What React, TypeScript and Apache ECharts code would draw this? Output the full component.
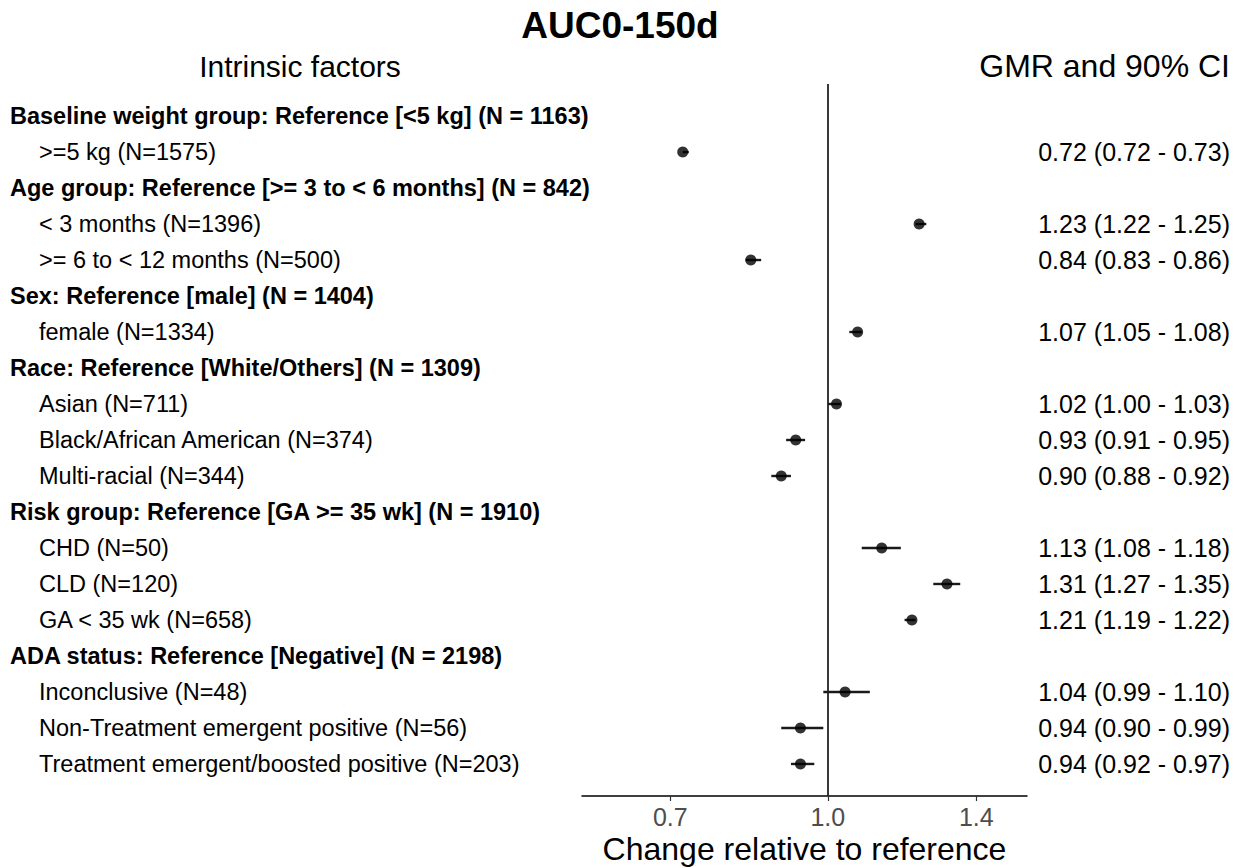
import { useEffect, useRef } from "react";
import * as echarts from "echarts";

const FONT = "'Liberation Sans', Arial, Helvetica, sans-serif";

const rowLabels = [
  "Baseline weight group: Reference [<5 kg] (N = 1163)",
  ">=5 kg (N=1575)",
  "Age group: Reference [>= 3 to < 6 months] (N = 842)",
  "< 3 months (N=1396)",
  ">= 6 to < 12 months (N=500)",
  "Sex: Reference [male] (N = 1404)",
  "female (N=1334)",
  "Race: Reference [White/Others] (N = 1309)",
  "Asian (N=711)",
  "Black/African American (N=374)",
  "Multi-racial (N=344)",
  "Risk group: Reference [GA >= 35 wk] (N = 1910)",
  "CHD (N=50)",
  "CLD (N=120)",
  "GA < 35 wk (N=658)",
  "ADA status: Reference [Negative] (N = 2198)",
  "Inconclusive (N=48)",
  "Non-Treatment emergent positive (N=56)",
  "Treatment emergent/boosted positive (N=203)",
];

const rowIsHeader = [
  true, false, true, false, false, true, false, true, false, false, false,
  true, false, false, false, true, false, false, false,
];

const gmrValues = [
  null, 0.72, null, 1.23, 0.84, null, 1.07, null, 1.02, 0.93, 0.9,
  null, 1.13, 1.31, 1.21, null, 1.04, 0.94, 0.94,
];
const ciLower = [
  null, 0.72, null, 1.22, 0.83, null, 1.05, null, 1.0, 0.91, 0.88,
  null, 1.08, 1.27, 1.19, null, 0.99, 0.9, 0.92,
];
const ciUpper = [
  null, 0.73, null, 1.25, 0.86, null, 1.08, null, 1.03, 0.95, 0.92,
  null, 1.18, 1.35, 1.22, null, 1.1, 0.99, 0.97,
];

const xTicks = [0.7, 1.0, 1.4];
const xLimits = [0.6, 1.5];
const referenceValue = 1.0;

export default function App() {
  const ref = useRef<HTMLDivElement>(null);

  useEffect(() => {
    document.body.style.margin = "0";
    const chart = echarts.init(ref.current!, null, { renderer: "svg" });
    const ln = Math.log;
    const span = ln(xLimits[1]) - ln(xLimits[0]);
    const lnMin = ln(xLimits[0]) - 0.05 * span;
    const lnMax = ln(xLimits[1]) + 0.05 * span;
    const idx = rowLabels.map((_, i) => i);
    const dataRows = idx.filter((i) => gmrValues[i] != null);
    const yPad = 0.89;
    const nRows = rowLabels.length;

    const ciText = (i: number) =>
      `${(gmrValues[i] as number).toFixed(2)} (${(ciLower[i] as number).toFixed(2)} - ${(ciUpper[i] as number).toFixed(2)})`;

    const headText = (text: string, x: number, y: number, size: number, align: string, bold = false) => ({
      type: "text",
      x,
      y,
      style: {
        text,
        font: `${bold ? "bold " : ""}${size}px ${FONT}`,
        fill: "#000",
        align,
        verticalAlign: "middle",
        textAlign: align,
        textVerticalAlign: "middle",
      },
    });

    chart.setOption({
      animation: false,
      textStyle: { fontFamily: FONT },
      grid: {
        left: 582,
        right: 213,
        top: 84,
        bottom: 72,
        containLabel: false,
        outerBoundsMode: "none",
      },
      graphic: [
        headText("AUC0-150d", 620, 25, 37, "center", true),
        headText("Intrinsic factors", 300, 66, 30, "center"),
        headText("GMR and 90% CI", 1230, 66, 32, "right"),
      ],
      xAxis: {
        type: "value",
        min: lnMin,
        max: lnMax,
        axisLine: { show: true, onZero: false, lineStyle: { color: "#000", width: 1.5 } },
        axisTick: {
          show: true,
          customValues: xTicks.map((v) => ln(v)),
          length: 5,
          lineStyle: { color: "#333", width: 1.2 },
        },
        axisLabel: {
          customValues: xTicks.map((v) => ln(v)),
          formatter: (v: number) => Math.exp(v).toFixed(1),
          color: "#4d4d4d",
          fontSize: 25,
          margin: 8,
          fontFamily: FONT,
        },
        splitLine: { show: false },
        name: "Change relative to reference",
        nameLocation: "middle",
        nameGap: 53,
        nameMoveOverlap: false,
        nameTextStyle: { fontSize: 32, color: "#000", fontFamily: FONT, verticalAlign: "middle" },
      },
      yAxis: [
        {
          type: "value",
          min: -yPad,
          max: nRows - 1 + yPad,
          inverse: true,
          axisLine: { show: false, onZero: false },
          axisTick: { show: false },
          splitLine: { show: false },
          axisLabel: {
            customValues: idx,
            formatter: (v: number) => {
              const i = Math.round(v);
              return rowIsHeader[i] ? `{h|${rowLabels[i]}}` : `{s|${rowLabels[i]}}`;
            },
            align: "left",
            margin: 572,
            rich: {
              h: { fontWeight: "bold", fontSize: 23.5, color: "#000", fontFamily: FONT },
              s: { fontSize: 23.5, color: "#000", fontFamily: FONT, padding: [0, 0, 0, 29] },
            },
          },
        },
        {
          type: "value",
          position: "right",
          min: -yPad,
          max: nRows - 1 + yPad,
          inverse: true,
          axisLine: { show: false, onZero: false },
          axisTick: { show: false },
          splitLine: { show: false },
          axisLabel: {
            customValues: dataRows,
            formatter: (v: number) => ciText(Math.round(v)),
            align: "right",
            margin: 203,
            fontSize: 25,
            color: "#000",
            fontFamily: FONT,
          },
        },
      ],
      series: [
        {
          type: "custom",
          xAxisIndex: 0,
          yAxisIndex: 0,
          z: 2,
          encode: { x: [0, 1], y: 2 },
          data: dataRows.map((i) => [ln(ciLower[i] as number), ln(ciUpper[i] as number), i]),
          renderItem: (_params: any, api: any) => {
            const a = api.coord([api.value(0), api.value(2)]);
            const b = api.coord([api.value(1), api.value(2)]);
            return {
              type: "line",
              shape: { x1: a[0], y1: a[1], x2: b[0], y2: b[1] },
              style: { stroke: "#1a1a1a", lineWidth: 2.4 },
            };
          },
        },
        {
          type: "scatter",
          xAxisIndex: 0,
          yAxisIndex: 0,
          z: 3,
          symbol: "circle",
          symbolSize: 11,
          itemStyle: { color: "#000" },
          data: dataRows.map((i) => [ln(gmrValues[i] as number), i]),
          markLine: {
            silent: true,
            symbol: "none",
            label: { show: false },
            lineStyle: { color: "#222", width: 1.8, type: "solid" },
            data: [{ xAxis: ln(referenceValue) }],
          },
        },
      ],
    });

    return () => chart.dispose();
  }, []);

  return <div ref={ref} style={{ width: 1240, height: 868 }} />;
}
